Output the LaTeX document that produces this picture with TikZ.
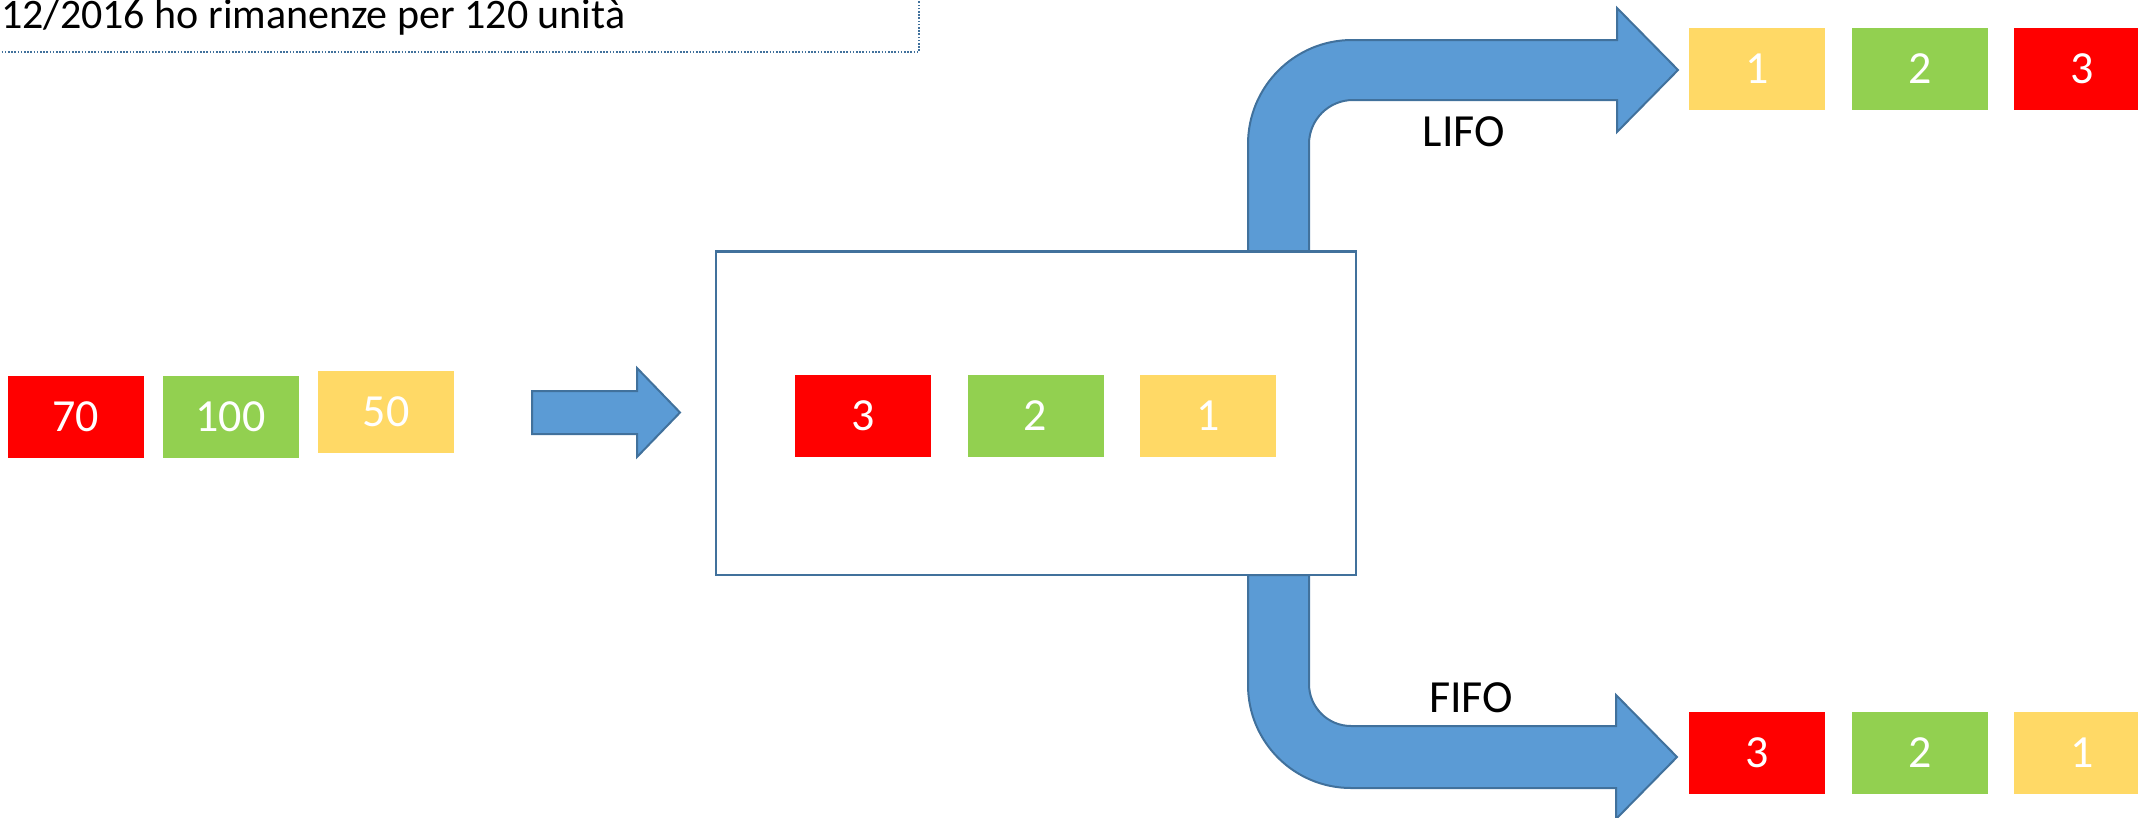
\documentclass[tikz,border=0pt]{standalone}
\usepackage{fontspec}
\setmainfont{Carlito}
\definecolor{cred}{HTML}{FF0000}
\definecolor{cgreen}{HTML}{92D050}
\definecolor{cyellow}{HTML}{FFD966}
\definecolor{afill}{HTML}{5B9BD5}
\definecolor{aline}{HTML}{41719C}
\tikzset{
  chip/.style={minimum width=136pt, minimum height=82pt, inner sep=0pt, text=white,
    font=\fontsize{46}{52}\selectfont},
  redchip/.style={chip, fill=cred},
  greenchip/.style={chip, fill=cgreen},
  yellowchip/.style={chip, fill=cyellow},
  blockarrow/.style={fill=afill, draw=aline, line width=2pt, line join=miter},
  storebox/.style={draw=aline, fill=white, line width=2.2pt, inner sep=0pt},
  arrowlabel/.style={font=\fontsize{46}{52}\selectfont, text=black, inner sep=0pt},
  notebox/.style={draw=aline, line width=1.6pt, dash pattern=on 1.6pt off 1.6pt}
}
\begin{document}
\begin{tikzpicture}[x=1pt,y=-1pt]
\useasboundingbox (0,0) rectangle (2138,817);
% note at top-left
\draw[notebox] (-10,-10) rectangle (919,52);
\node[anchor=base west, inner sep=0pt, font=\fontsize{42}{50}\selectfont] (note) at (1,28.5) {12/2016 ho rimanenze per 120 unità};
% left chips
\node[redchip] (l70) at (75.5,416.5) {70};
\node[greenchip] (l100) at (230.5,417) {100};
\node[yellowchip] (l50) at (386,412) {50};
% small arrow
\coordinate (sa1) at (532,412.5);
\coordinate (sa2) at (680,412.5);
\draw[blockarrow] (532,391) -- (637,391) -- (637,368) -- (sa2) -- (637,457) -- (637,434) -- (532,434) -- cycle;
% LIFO arrow
\draw[blockarrow] (1248,251.5) -- (1248,144)
  .. controls (1248,86.6) and (1294.6,40) .. (1352,40)
  -- (1617,40) -- (1617,8) -- (1678,70) -- (1617,132) -- (1617,100) -- (1353,100)
  .. controls (1328.7,100) and (1309,119.7) .. (1309,144)
  -- (1309,251.5) -- cycle;
% FIFO arrow
\draw[blockarrow] (1248,575) -- (1248,685)
  .. controls (1248,741.9) and (1294.1,788) .. (1351,788)
  -- (1616,788) -- (1616,819) -- (1677,757) -- (1616,695) -- (1616,726) -- (1351,726)
  .. controls (1327.8,726) and (1309,707.2) .. (1309,684)
  -- (1309,575) -- cycle;
% store box
\node[storebox, minimum width=640pt, minimum height=323.5pt] (store) at (1036,413.25) {};
\node[redchip] (s3) at (863,416) {3};
\node[greenchip] (s2) at (1035.5,416) {2};
\node[yellowchip] (s1) at (1208,416) {1};
% labels
\node[arrowlabel] (lifo) at (1464,132) {LIFO};
\node[arrowlabel] (fifo) at (1471,698) {FIFO};
% LIFO output
\node[yellowchip] (t1) at (1757,68.5) {1};
\node[greenchip] (t2) at (1920,68.5) {2};
\node[redchip] (t3) at (2082,68.5) {3};
% FIFO output
\node[redchip] (b3) at (1757,752.5) {3};
\node[greenchip] (b2) at (1920,752.5) {2};
\node[yellowchip] (b1) at (2082,752.5) {1};
\end{tikzpicture}
\end{document}
